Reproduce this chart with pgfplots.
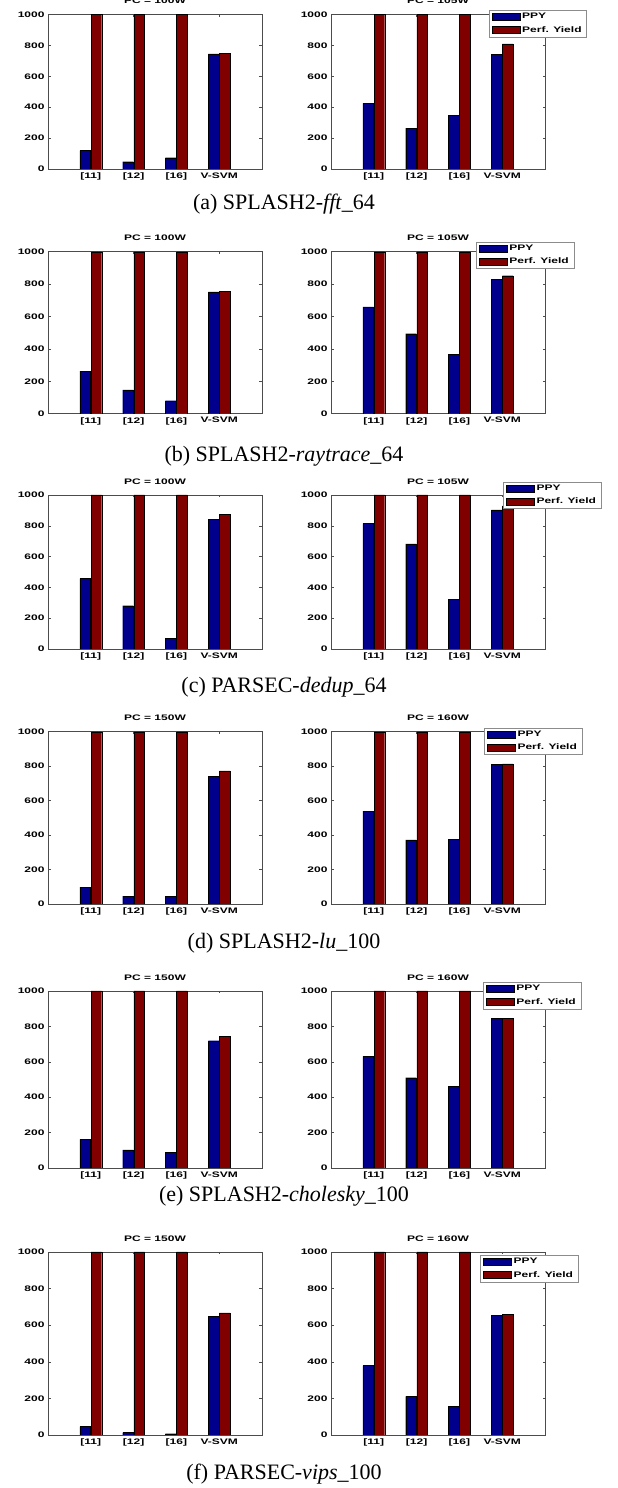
\documentclass[border=0pt]{standalone}
\usepackage{fontspec}
\setmainfont{Liberation Serif}
\newfontfamily\mfont{Liberation Sans}[FakeStretch=1.5]
\usepackage{pgfplots}
\pgfplotsset{compat=1.18}
\definecolor{mblue}{RGB}{0,0,140}
\definecolor{mred}{RGB}{128,0,0}
\newcommand\mf{\mfont\bfseries\fontsize{8bp}{9.4bp}\selectfont}
\newcommand\capf{\fontsize{22bp}{26bp}\selectfont}
\pgfplotsset{
  panel/.style={
    scale only axis, width=214bp, anchor=south west,
    ybar, bar width=0.25, ymin=0, ymax=1000, xmin=0, xmax=5,
    enlargelimits=false,
    xtick={1,2,3,4}, xticklabels={{[11]},{[12]},{[16]},{V-SVM}},
    ytick={0,200,400,600,800,1000},
    tick align=inside, major tick length=2.5bp,
    axis line style={black!70, line width=0.5pt}, tick style={black!70, line width=0.5pt},
    ticklabel style={font=\mf},
    /pgf/number format/assume math mode=true,
    /pgf/number format/1000 sep={},
    title style={font=\mf, anchor=south, inner sep=0pt, yshift=4.5bp},
    legend style={font=\mf, draw=black!45, fill=white, anchor=north west,
      inner xsep=3bp, inner ysep=1bp, row sep=1.5bp,
      cells={anchor=west}, nodes={inner xsep=2bp, inner ysep=2.2bp}},
    legend cell align=left,
  },
  ppy/.style={fill=mblue, draw=black, line width=0.3pt, bar shift=-0.13,
    legend image code/.code={\draw[fill=mblue,draw=black,line width=0.3pt] (0bp,-3.5bp) rectangle (28bp,3.5bp);}},
  pyd/.style={fill=mred, draw=black, line width=0.3pt, bar shift=0.13,
    legend image code/.code={\draw[fill=mred,draw=black,line width=0.3pt] (0bp,-3.5bp) rectangle (28bp,3.5bp);}},
}
\begin{document}
\begin{tikzpicture}
\fill[white] (0,0) rectangle (618bp,1488bp);
% ---------- row (a)
\begin{axis}[panel, at={(48bp,1319bp)}, height=154.5bp, title={PC = 100W}]
\addplot[ppy] coordinates {(1,119) (2,47) (3,73) (4,745)};
\addplot[pyd] coordinates {(1,1000) (2,1000) (3,1000) (4,748)};
\end{axis}
\begin{axis}[panel, at={(331bp,1319bp)}, height=154.5bp, title={PC = 105W},
  legend style={at={(0.737,1.029)}}]
\addplot[ppy] coordinates {(1,425) (2,264) (3,346) (4,743)};
\addplot[pyd] coordinates {(1,1000) (2,1000) (3,1000) (4,810)};
\legend{PPY,Perf. Yield}
\end{axis}
\node[font=\capf] at (284bp,1284bp) {(a) SPLASH2-\textit{fft}\_64};
% ---------- row (b)
\begin{axis}[panel, at={(48bp,1074.3bp)}, height=162bp, title={PC = 100W}]
\addplot[ppy] coordinates {(1,263) (2,147) (3,80) (4,752)};
\addplot[pyd] coordinates {(1,1000) (2,1000) (3,1000) (4,755)};
\end{axis}
\begin{axis}[panel, at={(331bp,1074.3bp)}, height=162bp, title={PC = 105W},
  legend style={at={(0.677,1.062)}}]
\addplot[ppy] coordinates {(1,660) (2,494) (3,368) (4,828)};
\addplot[pyd] coordinates {(1,1000) (2,1000) (3,1000) (4,852)};
\legend{PPY,Perf. Yield}
\end{axis}
\node[font=\capf] at (284bp,1032bp) {(b) SPLASH2-\textit{raytrace}\_64};
% ---------- row (c)
\begin{axis}[panel, at={(48bp,839bp)}, height=154bp, title={PC = 100W}]
\addplot[ppy] coordinates {(1,457) (2,281) (3,71) (4,840)};
\addplot[pyd] coordinates {(1,1000) (2,1000) (3,1000) (4,875)};
\end{axis}
\begin{axis}[panel, at={(331bp,839bp)}, height=154bp, title={PC = 105W},
  legend style={at={(0.804,1.086)}}]
\addplot[ppy] coordinates {(1,814) (2,682) (3,322) (4,903)};
\addplot[pyd] coordinates {(1,1000) (2,1000) (3,1000) (4,929)};
\legend{PPY,Perf. Yield}
\end{axis}
\node[font=\capf] at (284bp,801bp) {(c) PARSEC-\textit{dedup}\_64};
% ---------- row (d)
\begin{axis}[panel, at={(48bp,584bp)}, height=172.3bp, title={PC = 150W}]
\addplot[ppy] coordinates {(1,98) (2,46) (3,46) (4,740)};
\addplot[pyd] coordinates {(1,1000) (2,1000) (3,1000) (4,772)};
\end{axis}
\begin{axis}[panel, at={(331bp,584bp)}, height=172.3bp, title={PC = 160W},
  legend style={at={(0.715,1.022)}}]
\addplot[ppy] coordinates {(1,539) (2,372) (3,376) (4,811)};
\addplot[pyd] coordinates {(1,1000) (2,1000) (3,1000) (4,813)};
\legend{PPY,Perf. Yield}
\end{axis}
\node[font=\capf] at (284bp,545bp) {(d) SPLASH2-\textit{lu}\_100};
% ---------- row (e)
\begin{axis}[panel, at={(48bp,320bp)}, height=177bp, title={PC = 150W}]
\addplot[ppy] coordinates {(1,162) (2,102) (3,89) (4,719)};
\addplot[pyd] coordinates {(1,1000) (2,1000) (3,1000) (4,744)};
\end{axis}
\begin{axis}[panel, at={(331bp,320bp)}, height=177bp, title={PC = 160W},
  legend style={at={(0.710,1.051)}}]
\addplot[ppy] coordinates {(1,631) (2,510) (3,461) (4,844)};
\addplot[pyd] coordinates {(1,1000) (2,1000) (3,1000) (4,847)};
\legend{PPY,Perf. Yield}
\end{axis}
\node[font=\capf] at (284bp,292bp) {(e) SPLASH2-\textit{cholesky}\_100};
% ---------- row (f)
\begin{axis}[panel, at={(48bp,53bp)}, height=183bp, title={PC = 150W}]
\addplot[ppy] coordinates {(1,46) (2,13) (3,7) (4,650)};
\addplot[pyd] coordinates {(1,1000) (2,1000) (3,1000) (4,668)};
\end{axis}
\begin{axis}[panel, at={(331bp,53bp)}, height=183bp, title={PC = 160W},
  legend style={at={(0.697,0.984)}}]
\addplot[ppy] coordinates {(1,379) (2,211) (3,157) (4,655)};
\addplot[pyd] coordinates {(1,1000) (2,1000) (3,1000) (4,661)};
\legend{PPY,Perf. Yield}
\end{axis}
\node[font=\capf] at (284bp,14bp) {(f) PARSEC-\textit{vips}\_100};
\pgfresetboundingbox
\path[use as bounding box] (0,0) rectangle (618bp,1488bp);
\end{tikzpicture}
\end{document}
